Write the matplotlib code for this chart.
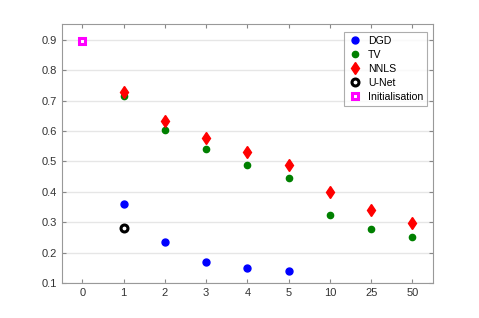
import numpy as np
import matplotlib
matplotlib.use("Agg")
import matplotlib.pyplot as plt

plt.rcParams['font.family'] = ['Liberation Sans', 'DejaVu Sans']

xlabels = ['0', '1', '2', '3', '4', '5', '10', '25', '50']

dgd_x = [1, 2, 3, 4, 5]
dgd_y = [0.360, 0.236, 0.168, 0.150, 0.141]

tv_x = [1, 2, 3, 4, 5, 6, 7, 8]
tv_y = [0.716, 0.602, 0.540, 0.487, 0.447, 0.325, 0.278, 0.250]

nnls_x = [1, 2, 3, 4, 5, 6, 7, 8]
nnls_y = [0.730, 0.632, 0.577, 0.530, 0.490, 0.400, 0.340, 0.297]

unet_x = [1]
unet_y = [0.282]

init_x = [0]
init_y = [0.895]

fig = plt.figure(figsize=(4.79, 3.18), dpi=100)
ax = fig.add_axes([0.129, 0.110, 0.775, 0.815])

ax.plot(dgd_x, dgd_y, 'o', color='blue', ms=5, label='DGD')
ax.plot(tv_x, tv_y, 'o', color='green', ms=4.5, label='TV')
ax.plot(nnls_x, nnls_y, 'd', color='red', ms=6, label='NNLS')
ax.plot(unet_x, unet_y, 'o', color='black', mfc='white', mec='black', mew=2.2, ms=5, label='U-Net')
ax.plot(init_x, init_y, 's', color='magenta', mfc='white', mec='magenta', mew=2.2, ms=5, label='Initialisation')

ax.set_xlim(-0.5, 8.5)
ax.set_ylim(0.1, 0.953)
ax.set_xticks(range(len(xlabels)))
ax.set_xticklabels(xlabels)
ax.set_yticks(np.arange(0.1, 0.95, 0.1))
ax.set_yticklabels(['%.1f' % v for v in np.arange(0.1, 0.95, 0.1)])
ax.grid(axis='y', color='#e6e6e6', lw=1)
ax.set_axisbelow(True)
ax.tick_params(direction='in', top=True, right=True, length=3, color='#888888',
               labelcolor='#333333', labelsize=8)
for s in ax.spines.values():
    s.set_color('#999999')

leg = ax.legend(loc='upper right', fontsize=7.6, frameon=True, fancybox=False,
                edgecolor='#999999', borderpad=0.35, labelspacing=0.38,
                handletextpad=0.5, handlelength=1.4, bbox_to_anchor=(0.998, 0.988))
leg.get_frame().set_linewidth(0.8)

fig.savefig('out.png', dpi=100)
